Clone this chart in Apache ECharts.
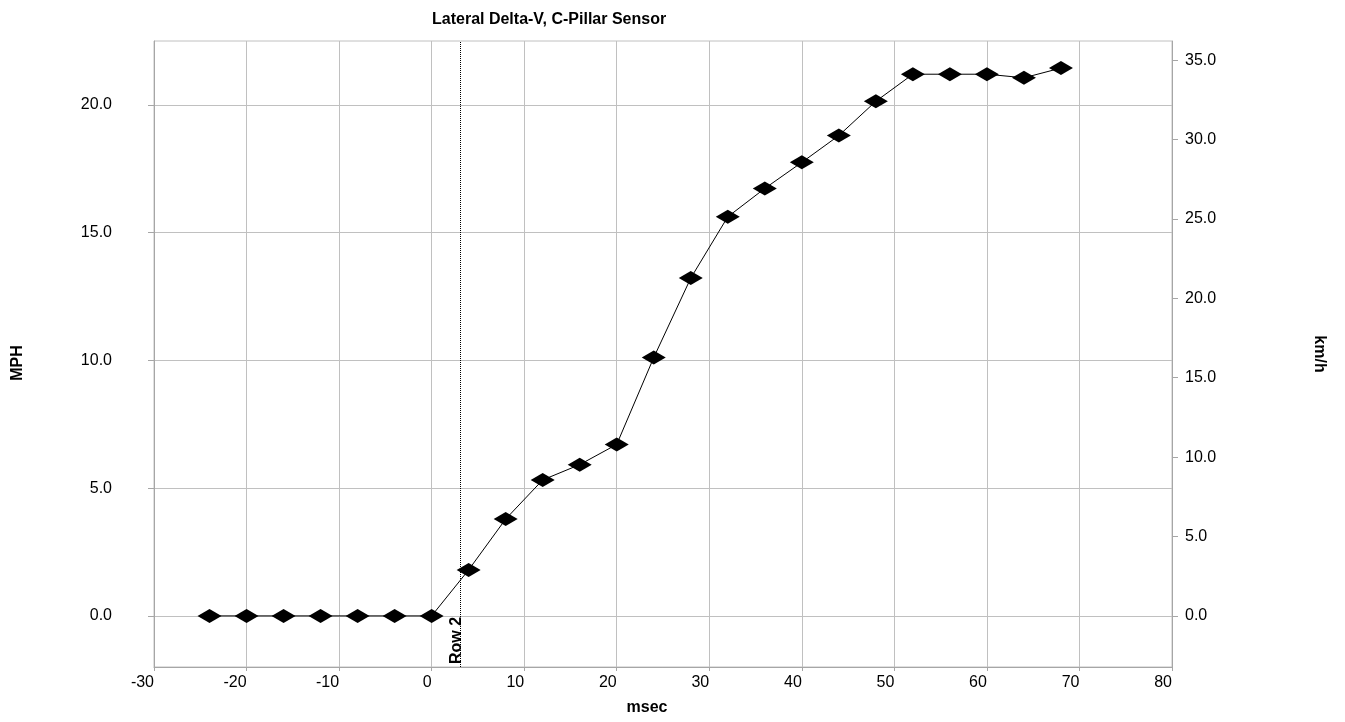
<!DOCTYPE html>
<html><head><meta charset="utf-8">
<script src="https://cdn.jsdelivr.net/npm/echarts@6/dist/echarts.min.js"></script>
<style>html,body{margin:0;padding:0;background:#fff}#c{width:1345px;height:722px}</style>
</head><body><div id="c"></div>
<script>
// ---- data ----
const msec = [-24,-20,-16,-12,-8,-4,0,4,8,12,16,20,24,28,32,36,40,44,48,52,56,60,64,68];
const mph  = [0,0,0,0,0,0,0,1.80,3.79,5.32,5.92,6.71,10.11,13.22,15.62,16.73,17.75,18.80,20.14,21.20,21.20,21.20,21.06,21.44];
const mphTicks = [0,5,10,15,20];
const kmhTicks = [0,5,10,15,20,25,30,35];
const markerX = 3.1;
const markerLabel = 'Row 2';
const MPH_MIN = -2, MPH_MAX = 22.5;
const KMH_PER_MPH = 1.609344;
const titleText = 'Lateral Delta-V, C-Pillar Sensor';

const FF = 'Liberation Sans, Arial, sans-serif';
const axisGray = '#a6a6a6';
const gridGray = '#c0c0c0';
const fmt = v => Number(v).toFixed(1);

const chart = echarts.init(document.getElementById('c'));
chart.setOption({
  animation: false,
  backgroundColor: '#fff',
  title: {text: titleText, left: 427, top: 7,
    textStyle: {fontSize: 16, fontWeight: 'bold', color: '#000', fontFamily: FF}},
  grid: {left: 154, right: 173, top: 41, bottom: 55, show: true, borderColor: gridGray, borderWidth: 1},
  xAxis: {
    type: 'value', min: -30, max: 80, interval: 10,
    axisLine: {show: true, onZero: false, lineStyle: {color: axisGray}},
    axisTick: {show: true, length: 4, lineStyle: {color: axisGray}},
    axisLabel: {align: 'right', margin: 8, fontSize: 16, color: '#000', fontFamily: FF},
    splitLine: {show: true, lineStyle: {color: gridGray}},
    name: 'msec', nameLocation: 'middle', nameGap: 33,
    nameTextStyle: {fontWeight: 'bold', fontSize: 16, color: '#000', fontFamily: FF, padding: [0, 32, 0, 0]}
  },
  yAxis: [{
    type: 'value', min: MPH_MIN, max: MPH_MAX, splitNumber: 5, position: 'left',
    axisLine: {show: true, onZero: false, lineStyle: {color: axisGray}},
    axisTick: {show: true, length: 6, customValues: mphTicks, lineStyle: {color: axisGray}},
    axisLabel: {customValues: mphTicks, formatter: fmt, margin: 42, fontSize: 16, color: '#000', fontFamily: FF},
    splitLine: {show: true, lineStyle: {color: gridGray}},
    name: 'MPH', nameLocation: 'middle', nameGap: 128,
    nameTextStyle: {fontWeight: 'bold', fontSize: 16, color: '#000', fontFamily: FF, padding: [0, 18, 0, 0]}
  }, {
    type: 'value', min: MPH_MIN * KMH_PER_MPH, max: MPH_MAX * KMH_PER_MPH, position: 'right',
    axisLine: {show: true, onZero: false, lineStyle: {color: axisGray}},
    axisTick: {show: true, length: 6, customValues: kmhTicks, lineStyle: {color: axisGray}},
    axisLabel: {customValues: kmhTicks, formatter: fmt, margin: 13, fontSize: 16, color: '#000', fontFamily: FF},
    splitLine: {show: false},
    name: 'km/h', nameLocation: 'middle', nameGap: 139, nameRotate: -90,
    nameTextStyle: {fontWeight: 'bold', fontSize: 16, color: '#000', fontFamily: FF}
  }],
  series: [{
    type: 'line', xAxisIndex: 0, yAxisIndex: 0,
    data: msec.map((x, i) => [x, mph[i]]),
    symbol: 'diamond', symbolSize: [24, 14], showAllSymbol: true,
    itemStyle: {color: '#000'}, lineStyle: {color: '#000', width: 1},
    emphasis: {disabled: true},
    markLine: {
      silent: true, symbol: ['none', 'none'],
      lineStyle: {type: 'dotted', color: '#000', width: 1},
      label: {show: true, position: 'insideStartTop', formatter: markerLabel, fontWeight: 'bold',
        fontSize: 16, color: '#000', fontFamily: FF, distance: [3, -4]},
      emphasis: {disabled: true},
      data: [{xAxis: markerX}]
    }
  }]
});
</script></body></html>
